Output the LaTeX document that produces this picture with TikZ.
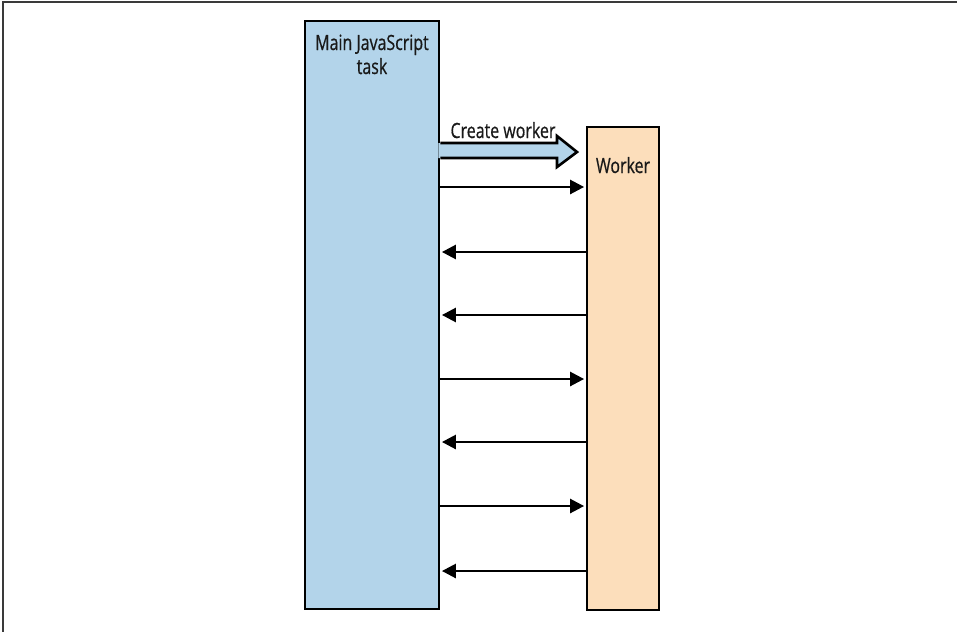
\documentclass[tikz,border=0pt]{standalone}
\usepackage{fontspec}
\setmainfont{Open Sans}[FakeStretch=0.76, FakeBold=0.6]
\usetikzlibrary{arrows.meta}
\definecolor{mainblue}{HTML}{B3D4EA}
\definecolor{workpeach}{HTML}{FCDEBB}
\definecolor{framegray}{HTML}{3A3A3A}
\tikzset{
  taskbox/.style={draw=black, line width=2.8pt, inner sep=0pt, minimum width=#1},
  lbl/.style={font=\fontsize{21}{24}\selectfont, text=black!90, anchor=base, inner sep=0pt, align=center},
  msg/.style={line width=2.6pt, -{Triangle[length=14pt,width=14pt]}, shorten >=1.5pt},
}
\begin{document}
\begin{tikzpicture}[x=1pt,y=-1pt]
\useasboundingbox (0,0) rectangle (957,632);
% frame (top and left edges)
\draw[framegray, line width=2pt] (957,1.5) -- (2.5,1.5) -- (2.5,632);
% boxes
\node[taskbox=134pt, minimum height=588pt, fill=mainblue] (main) at (372,315) {};
\node[taskbox=72pt, minimum height=483pt, fill=workpeach] (worker) at (623,368.5) {};
% labels
\node[lbl] (mainlbl) at (372,50) {Main JavaScript};
\node[lbl] (mainlbl2) at (372,74) {task};
\node[lbl] (workerlbl) at (623,173) {Worker};
% create worker block arrow
\fill[mainblue] ([xshift=-2pt]main.east |- 0,143) -- (557,143) -- (557,136) -- (577,152) -- (557,167) -- (557,158) -- ([xshift=-2pt]main.east |- 0,158) -- cycle;
\draw[line width=2.6pt, line join=miter] (main.east |- 0,143) -- (557,143) -- (557,136) -- (577,152) -- (557,167) -- (557,158) -- (main.east |- 0,158);
\node[lbl] (cwlbl) at (503,138) {Create worker};
% messages
\foreach \yy/\dir in {187/r, 252/l, 315/l, 379/r, 442/l, 506/r, 571/l}{
  \coordinate (m) at (0,\yy);
  \if r\dir
    \draw[msg] (main.east |- m) -- (worker.west |- m);
  \else
    \draw[msg] (worker.west |- m) -- (main.east |- m);
  \fi
}
\end{tikzpicture}
\end{document}
